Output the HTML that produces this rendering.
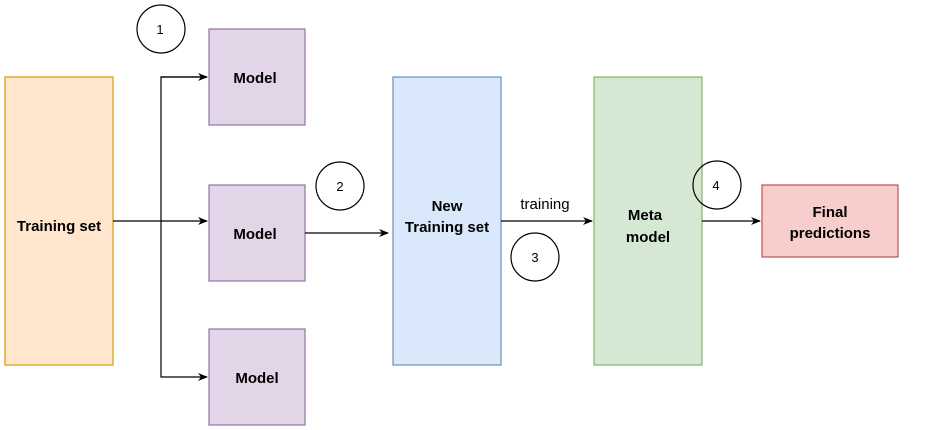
<!DOCTYPE html>
<html><head><style>body{margin:0;background:#fff}svg{display:block}text{font-family:"Liberation Sans",Arial,sans-serif;font-weight:bold;font-size:15px;fill:#000}</style></head>
<body>
<svg width="935" height="430" viewBox="0 0 935 430">
<defs><marker id="a" markerWidth="10" markerHeight="10" refX="9" refY="5" orient="auto" markerUnits="userSpaceOnUse"><path d="M0,1 L10,5 L0,9 L3,5 Z" fill="#000"/></marker></defs>
<rect x="5" y="77" width="108" height="288" fill="#ffe6cc" stroke="#d79b00" stroke-width="1.2"/>
<text x="59" y="231" text-anchor="middle">Training set</text>
<g fill="#e1d5e7" stroke="#9673a6" stroke-width="1.2">
<rect x="209" y="29" width="96" height="96"/><rect x="209" y="185" width="96" height="96"/><rect x="209" y="329" width="96" height="96"/></g>
<text x="255" y="83" text-anchor="middle">Model</text>
<text x="255" y="239" text-anchor="middle">Model</text>
<text x="257" y="383" text-anchor="middle">Model</text>
<rect x="393" y="77" width="108" height="288" fill="#dae8fc" stroke="#6c8ebf" stroke-width="1.2"/>
<text x="447" y="211" text-anchor="middle">New</text>
<text x="447" y="232" text-anchor="middle">Training set</text>
<rect x="594" y="77" width="108" height="288" fill="#d5e8d4" stroke="#82b366" stroke-width="1.2"/>
<text x="627" y="220" text-anchor="middle" dx="18">Meta</text>
<text x="628" y="242" text-anchor="middle" dx="20">model</text>
<rect x="762" y="185" width="136" height="72" fill="#f8cecc" stroke="#b85450" stroke-width="1.2"/>
<text x="830" y="217" text-anchor="middle">Final</text>
<text x="830" y="238" text-anchor="middle">predictions</text>
<g stroke="#000" stroke-width="1.2" fill="none">
<path d="M113,221 H207" marker-end="url(#a)"/>
<path d="M207,77 H161 V377 H207" marker-end="url(#a)"/>
<path d="M161,77 H207" marker-end="url(#a)"/>
<path d="M305,233 H388" marker-end="url(#a)"/>
<path d="M501,221 H592" marker-end="url(#a)"/>
<path d="M702,221 H760" marker-end="url(#a)"/>
<circle cx="161" cy="29" r="24"/><circle cx="340" cy="186" r="24"/><circle cx="535" cy="257" r="24"/><circle cx="717" cy="185" r="24"/>
</g>
<g style="font-weight:normal;font-size:13px" text-anchor="middle">
<text x="160" y="34" style="font-weight:normal;font-size:13px">1</text>
<text x="340" y="191" style="font-weight:normal;font-size:13px">2</text>
<text x="535" y="262" style="font-weight:normal;font-size:13px">3</text>
<text x="716" y="190" style="font-weight:normal;font-size:13px">4</text>
<text x="545" y="209" style="font-weight:normal;font-size:15px">training</text>
</g>
</svg>
</body></html>
